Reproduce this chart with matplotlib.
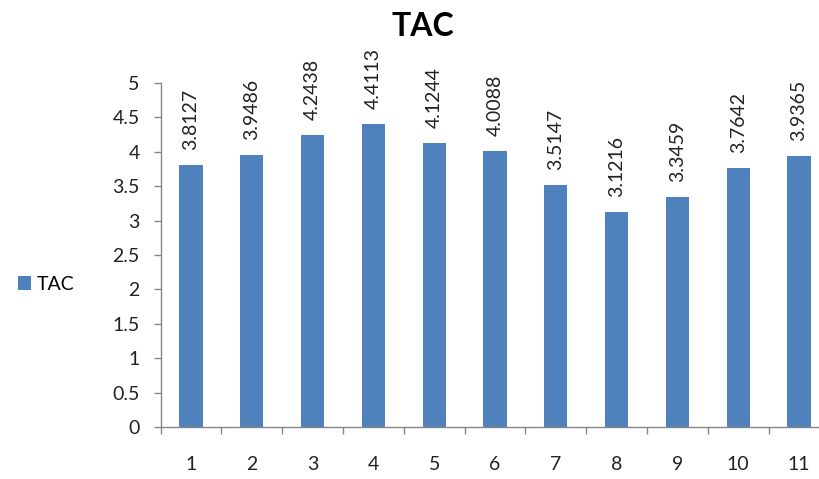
import matplotlib.pyplot as plt
import numpy as np

# TAC values per sample
samples = ['1', '2', '3', '4', '5', '6', '7', '8', '9', '10', '11']
tac = [3.8127, 3.9486, 4.2438, 4.4113, 4.1244, 4.0088, 3.5147, 3.1216, 3.3459, 3.7642, 3.9365]
yticks = [0, 0.5, 1, 1.5, 2, 2.5, 3, 3.5, 4, 4.5, 5]

plt.rcParams['font.family'] = ['Lato', 'DejaVu Sans']

W, H = 820, 479
fig = plt.figure(figsize=(W/100, H/100), dpi=100)
# plot area runs past the right edge, like the cropped original
ax = fig.add_axes([160.6/W, 52/H, 668.8/W, 344/H])

x = np.arange(1, len(samples)+1)
bars = ax.bar(x, tac, width=0.38, color='#4F81BD', label='TAC', zorder=2)

for xi, v in zip(x, tac):
    ax.annotate('%.4f' % v, (xi, v), xytext=(0, 15), textcoords='offset pixels',
                rotation=90, ha='center', va='bottom', fontsize=14, color='#222222')

ax.set_xlim(0.5, len(samples)+0.5)
ax.set_ylim(0, 5)
ax.set_yticks(yticks)
ax.set_yticklabels(['%g' % t for t in yticks])
ax.set_xticks(x)
ax.set_xticklabels(samples)
ax.set_xticks(np.arange(0.5, len(samples)+1, 1), minor=True)

for s in ['top', 'right']:
    ax.spines[s].set_visible(False)
for s in ['left', 'bottom']:
    ax.spines[s].set_color('#868686')
    ax.spines[s].set_linewidth(1.0)

ax.tick_params(axis='y', length=5, width=1, color='#868686', pad=10, labelsize=14, labelcolor='#222222')
ax.tick_params(axis='x', which='major', length=0, pad=21, labelsize=14, labelcolor='#222222')
ax.tick_params(axis='x', which='minor', length=5, width=1, color='#868686')

fig.text(423/W, 1 - 26/H, 'TAC', ha='center', va='center', fontsize=23, fontweight='bold')

fig.legend(handles=[bars], labels=['TAC'], loc='center left', bbox_to_anchor=(10/W, 1 - 284/H),
           frameon=False, fontsize=14, handlelength=0.7, handleheight=0.7, handletextpad=0.3,
           borderaxespad=0)

fig.savefig('out.png', dpi=100)
